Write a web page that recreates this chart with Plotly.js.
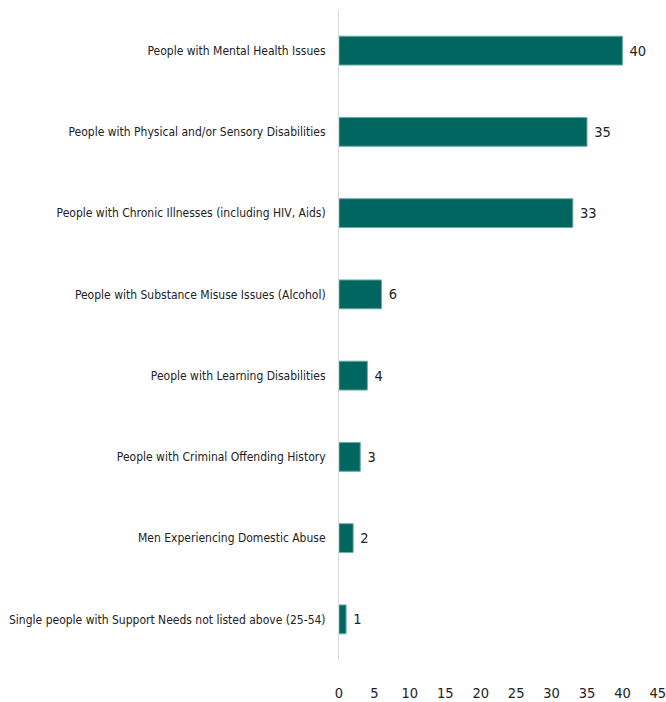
<!DOCTYPE html>
<html>
<head>
<meta charset="utf-8">
<script src="https://cdn.plot.ly/plotly-3.0.1.min.js"></script>
<style>html,body{margin:0;padding:0;background:#fff;}#chart{width:666px;height:702px;}</style>
</head>
<body>
<div id="chart"></div>
<script>
const categories = [
  "People with Mental Health Issues",
  "People with Physical and/or Sensory Disabilities",
  "People with Chronic Illnesses (including HIV, Aids)",
  "People with Substance Misuse Issues (Alcohol)",
  "People with Learning Disabilities",
  "People with Criminal Offending History",
  "Men Experiencing Domestic Abuse",
  "Single people with Support Needs not listed above (25-54)"
];
const values = [40, 35, 33, 6, 4, 3, 2, 1];
const xTicks = [0, 5, 10, 15, 20, 25, 30, 35, 40, 45];

const FONT = "'DejaVu Sans Condensed', 'Roboto Condensed', sans-serif";

const trace = {
  type: 'bar',
  orientation: 'h',
  y: categories,
  x: values,
  marker: {color: '#00665F', line: {color: '#6aaea9', width: 1}},
  text: values.map(v => ' ' + v),
  textposition: 'outside',
  cliponaxis: false,
  textfont: {family: FONT, size: 14.5, color: '#222'},
  hoverinfo: 'x+y'
};

const layout = {
  width: 666, height: 702,
  margin: {l: 339, r: 8, t: 10, b: 42},
  paper_bgcolor: '#fff', plot_bgcolor: '#fff',
  showlegend: false,
  bargap: 0.645,
  font: {family: FONT, size: 12, color: '#222'},
  xaxis: {
    range: [0, 45.02],
    tickvals: xTicks,
    ticktext: xTicks.map(String),
    ticklabeloverflow: 'allow',
    showgrid: false, zeroline: false, showline: false,
    ticks: 'outside', ticklen: 20, tickcolor: 'rgba(0,0,0,0)',
    tickfont: {family: FONT, size: 14.5, color: '#222'},
    fixedrange: true
  },
  yaxis: {
    autorange: 'reversed',
    showgrid: false, zeroline: false,
    showline: true, linecolor: '#d9d9d9', linewidth: 1,
    ticks: 'outside', ticklen: 10, tickcolor: 'rgba(0,0,0,0)',
    tickfont: {family: FONT, size: 12, color: '#222'},
    fixedrange: true
  }
};

Plotly.newPlot('chart', [trace], layout, {displayModeBar: false, staticPlot: true});
</script>
</body>
</html>
